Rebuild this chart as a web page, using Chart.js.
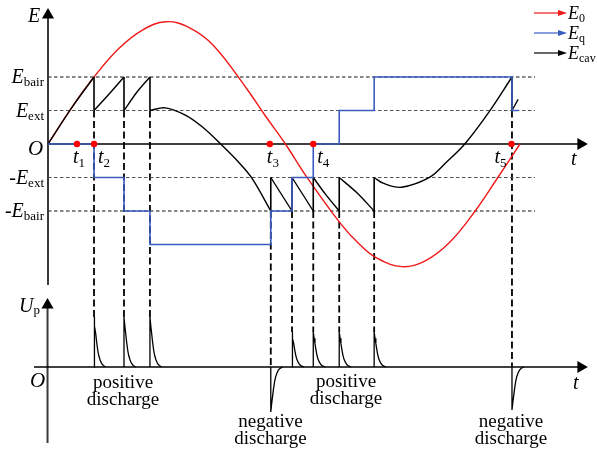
<!DOCTYPE html>
<html><head><meta charset="utf-8">
<style>html,body{margin:0;padding:0;background:#fff;}#wrap{width:597px;height:453px;position:relative;overflow:hidden;}</style>
<script src="https://cdn.jsdelivr.net/npm/chart.js@4.4.0/dist/chart.umd.min.js"></script>
</head><body><div id="wrap"><canvas id="c" width="597" height="453"></canvas></div>
<script>
// ---------- DATA (t in % of one E0 period, E in units of E_ext, U in relative pulse units) ----------
const levelValues = [2, 1, -1, -2];             // E_bair, E_ext, -E_ext, -E_bair
const levelSign   = ['', '', '-', '-'];
const levelSub    = ['bair', 'ext', 'ext', 'bair'];

// applied field E0 (red)
const e0T = [0, 5, 9.75, 15, 20, 25, 30, 35, 42.1, 46, 50.3, 54.8, 61.9, 66.1, 69.6, 75, 80, 85, 90.5, 95.3, 100];
const e0V = [0, 1.08, 2.0, 2.85, 3.4, 3.65, 3.47, 2.95, 1.65, 0.85, 0, -0.98, -2.36, -3.01, -3.40, -3.66, -3.48, -2.95, -2.0, -1.0, 0];

// surface-charge field Eq (blue, stepped)
const eqT = [0, 9.75, 9.75, 16.1, 16.1, 21.6, 21.6, 47.2, 47.2, 51.7, 51.7, 56.2, 56.2, 61.7, 61.7, 69.1, 69.1, 98.3, 98.3, 99.7];
const eqV = [0, 0, -1, -1, -2, -2, -3, -3, -2, -2, -1, -1, 0, 0, 1, 1, 2, 2, 1, 1];

// cavity field Ecav (black), smooth pieces between discharges
const cavRise    = [[0, 0], [5, 1.08], [9.75, 2.0]];
const cavCharge1 = [[9.75, 1.0], [13, 1.5], [16.1, 2.0]];
const cavCharge2 = [[16.1, 1.0], [18.9, 1.56], [21.6, 2.0]];
const cavDecay   = [[21.6, 1.0], [24.8, 1.08], [29.0, 0.87], [32.6, 0.52], [36.8, -0.03], [40.3, -0.53], [43.2, -1.02], [47.2, -2.0]];
const cavNeg1    = [[47.2, -1.0], [51.7, -2.0]];
const cavNeg2    = [[51.7, -1.0], [56.2, -2.0]];
const cavNeg3    = [[56.2, -1.0], [58.9, -1.52], [61.7, -2.0]];
const cavNeg4    = [[61.7, -1.0], [65.4, -1.45], [69.1, -2.0]];
const cavRecover = [[69.1, -1.0], [71, -1.17], [74.9, -1.29], [80.9, -0.99], [84.5, -0.53], [88.3, 0.0], [93.6, 0.99], [98.3, 2.0]];
const cavTail    = [[98.3, 1.0], [99.6, 1.33]];

// discharges
const dischargeT    = [9.75, 16.1, 21.6, 47.2, 51.7, 56.2, 61.7, 69.1, 98.3];
const dischargeFrom = [2, 2, 2, -2, -2, -2, -2, -2, 2];
const dischargeTo   = [1, 1, 1, -1, -1, -1, -1, -1, 1];
const pulseU        = [1, 1, 1, -0.9, 0.7, 0.7, 0.7, 0.7, -0.86];
// pulse decay profile
const pulseDt   = [0, 0.18, 0.36, 0.57, 0.78, 1.0, 1.27, 1.6, 1.97, 2.5];
const pulseFrac = [1, 0.82, 0.67, 0.49, 0.34, 0.23, 0.145, 0.07, 0.03, 0];

// marked instants t1..t5
const tMarks = [6.14, 9.75, 47.0, 56.2, 98.2];
const tNames = ['1', '2', '3', '4', '5'];

// ---------- LAYOUT ----------
const W = 597, H = 453;
const ORIGIN_X = 48, PX_T = 4.72;          // t=0 at x=48
const E_ZERO_Y = 144, PX_E = 33.5;         // E=0 at y=144
const U_ZERO_Y = 367, PX_U = 50;           // U=0 at y=367
const LEVEL_END = 103.2, T_AXIS_END = 112.9;

const FONT = '"Liberation Serif", "Times New Roman", serif';
const IT = 'italic 20px ' + FONT, SUB = '13px ' + FONT, TXT = '19px ' + FONT;
const BLUE = '#3a5cc0', RED = '#f01818';

function pts(ts, vs) { return ts.map((t, i) => ({x: t, y: vs[i]})); }
function pairs(a) { return a.map(p => ({x: p[0], y: p[1]})); }
const base = {pointRadius: 0, fill: false, tension: 0};

const datasets = [];
// red dots
datasets.push({data: tMarks.map(t => ({x: t, y: 0})), yAxisID: 'yE', showLine: false,
  pointRadius: 3.2, pointBackgroundColor: '#f00', pointBorderWidth: 0, order: 1});
// blue Eq
datasets.push(Object.assign({}, base, {data: pts(eqT, eqV), yAxisID: 'yE', borderColor: BLUE, borderWidth: 1.6, order: 2}));
// black Ecav pieces
[cavRise, cavCharge1, cavCharge2, cavDecay, cavNeg1, cavNeg2, cavNeg3, cavNeg4, cavRecover, cavTail].forEach(seg => {
  datasets.push(Object.assign({}, base, {data: pairs(seg), yAxisID: 'yE', borderColor: '#000', borderWidth: 1.4, tension: 0.35, order: 3}));
});
// solid jumps at discharges
const drops = [];
dischargeT.forEach((t, i) => { drops.push({x: t, y: dischargeFrom[i]}, {x: t, y: dischargeTo[i]}, {x: t, y: null}); });
datasets.push(Object.assign({}, base, {data: drops, yAxisID: 'yE', borderColor: '#000', borderWidth: 1.6, spanGaps: false, order: 3}));
// red E0
datasets.push(Object.assign({}, base, {data: pts(e0T, e0V), yAxisID: 'yE', borderColor: RED, borderWidth: 1.4, tension: 0.4, order: 4}));
// pulses
dischargeT.forEach((t, i) => {
  const h = pulseU[i];
  const d = [{x: t, y: 0}].concat(pulseDt.map((dt, k) => ({x: t + dt, y: h * pulseFrac[k]})));
  datasets.push(Object.assign({}, base, {data: d, yAxisID: 'yU', borderColor: '#000', borderWidth: 1.3, order: 3}));
});
// level dashed lines
levelValues.forEach((v, i) => {
  datasets.push(Object.assign({}, base, {data: [{x: 0, y: v}, {x: LEVEL_END, y: v}], yAxisID: 'yE',
    borderColor: (Math.abs(v) === 2 ? '#111' : '#555'), borderWidth: 1.1, borderDash: [3.5, 2.5], order: 6}));
});
// axes
const AX = '#3a3a3a';
datasets.push(Object.assign({}, base, {data: [{x: 0, y: -4.21}, {x: 0, y: 3.85}], yAxisID: 'yE', borderColor: AX, borderWidth: 2, order: 5}));
datasets.push(Object.assign({}, base, {data: [{x: 0, y: 0}, {x: T_AXIS_END, y: 0}], yAxisID: 'yE', borderColor: '#000', borderWidth: 1.5, order: 5}));
datasets.push(Object.assign({}, base, {data: [{x: -2.97, y: 0}, {x: T_AXIS_END, y: 0}], yAxisID: 'yU', borderColor: '#000', borderWidth: 1.5, order: 5}));
datasets.push(Object.assign({}, base, {data: [{x: -0.1, y: -1.52}, {x: -0.1, y: 1.24}], yAxisID: 'yU', borderColor: AX, borderWidth: 2, order: 5}));
// arrow heads
const arrow = (data, axis, rot) => ({data, yAxisID: axis, showLine: false, pointStyle: 'triangle', pointRadius: 7,
  pointRotation: rot, pointBackgroundColor: '#000', pointBorderWidth: 0, order: 0});
datasets.push(arrow([{x: 0, y: 3.85}], 'yE', 0));
datasets.push(arrow([{x: T_AXIS_END, y: 0}], 'yE', 90));
datasets.push(arrow([{x: T_AXIS_END, y: 0}], 'yU', 90));
datasets.push(arrow([{x: -0.1, y: 1.24}], 'yU', 0));

// ---------- PLUGINS ----------
function runs(ctx, list, x, y, align) {
  let w = 0;
  list.forEach(r => { ctx.font = r.f; w += ctx.measureText(r.t).width; });
  let cx = align === 'right' ? x - w : (align === 'center' ? x - w / 2 : x);
  list.forEach(r => { ctx.font = r.f; ctx.fillText(r.t, cx, y + (r.dy || 0)); cx += ctx.measureText(r.t).width; });
}

const dischargePlugin = {
  id: 'dischargeLines',
  beforeDatasetsDraw(chart) {
    const {ctx, scales: {x, yE, yU}} = chart;
    ctx.save();
    ctx.strokeStyle = '#000'; ctx.lineWidth = 1.8; ctx.setLineDash([7, 3.5]);
    dischargeT.forEach((t, i) => {
      const px = x.getPixelForValue(t);
      const y1 = yE.getPixelForValue(Math.min(dischargeFrom[i], dischargeTo[i]));
      const y2 = yU.getPixelForValue(Math.max(pulseU[i], 0));
      ctx.beginPath(); ctx.moveTo(px, y1); ctx.lineTo(px, y2); ctx.stroke();
    });
    ctx.restore();
  }
};

const textPlugin = {
  id: 'texts',
  afterDraw(chart) {
    const {ctx, scales: {x, yE, yU}} = chart;
    ctx.save();
    ctx.fillStyle = '#000'; ctx.textBaseline = 'alphabetic';
    const x0 = x.getPixelForValue(0);
    // axis titles
    runs(ctx, [{t: 'E', f: IT}], x0 - 20, 22, 'left');
    runs(ctx, [{t: 'O', f: 'italic 21px ' + FONT}], x0 - 20, yE.getPixelForValue(0) + 11, 'left');
    runs(ctx, [{t: 't', f: IT}], x.getPixelForValue(T_AXIS_END) - 10, yE.getPixelForValue(0) + 21, 'left');
    runs(ctx, [{t: 'O', f: 'italic 21px ' + FONT}], x0 - 18, yU.getPixelForValue(0) + 20, 'left');
    runs(ctx, [{t: 't', f: IT}], x.getPixelForValue(T_AXIS_END) - 8, yU.getPixelForValue(0) + 22, 'left');
    runs(ctx, [{t: 'U', f: IT}, {t: 'p', f: SUB, dy: 2}], x0 - 29, 312, 'left');
    // level labels
    levelValues.forEach((v, i) => {
      const list = [];
      if (levelSign[i]) list.push({t: levelSign[i], f: '20px ' + FONT});
      list.push({t: 'E', f: IT}, {t: levelSub[i], f: SUB, dy: 3});
      runs(ctx, list, x0 - 4, yE.getPixelForValue(v) + 6, 'right');
    });
    // t1..t5
    const tOff = [-4, 4, -3, 4, -17];
    tMarks.forEach((t, i) => {
      runs(ctx, [{t: 't', f: IT}, {t: tNames[i], f: SUB, dy: 4}], x.getPixelForValue(t) + tOff[i], yE.getPixelForValue(0) + 19, 'left');
    });
    // discharge captions
    ctx.font = TXT; ctx.textAlign = 'center';
    const cap = [[123, 388, 'positive'], [123, 405, 'discharge'], [346, 387, 'positive'], [346, 404, 'discharge'],
                 [270.5, 427, 'negative'], [270.5, 444, 'discharge'], [511, 427, 'negative'], [511, 444, 'discharge']];
    cap.forEach(c => ctx.fillText(c[2], c[0], c[1]));
    ctx.textAlign = 'left';
    // legend
    const leg = [[RED, 13, '0'], [BLUE, 33, 'q'], ['#000', 53, 'cav']];
    leg.forEach((l, i) => {
      ctx.strokeStyle = l[0]; ctx.fillStyle = l[0]; ctx.lineWidth = 1.2;
      ctx.beginPath(); ctx.moveTo(534, l[1]); ctx.lineTo(560, l[1]); ctx.stroke();
      ctx.beginPath(); ctx.moveTo(567, l[1]); ctx.lineTo(558, l[1] - 3); ctx.lineTo(558, l[1] + 3); ctx.closePath(); ctx.fill();
      ctx.fillStyle = '#000';
      runs(ctx, [{t: 'E', f: 'italic 18px ' + FONT}, {t: l[2], f: '12px ' + FONT, dy: 3}], 568, l[1] + 6, 'left');
    });
    ctx.restore();
  }
};

function draw() {
  new Chart(document.getElementById('c'), {
    type: 'line',
    data: {datasets},
    options: {
      responsive: false, animation: false, events: [], devicePixelRatio: 1,
      layout: {padding: 0, autoPadding: false},
      plugins: {legend: {display: false}, tooltip: {enabled: false}, title: {display: false}},
      scales: {
        x: {type: 'linear', display: false, min: -ORIGIN_X / PX_T, max: (W - ORIGIN_X) / PX_T},
        yE: {type: 'linear', display: false, min: (E_ZERO_Y - H) / PX_E, max: E_ZERO_Y / PX_E},
        yU: {type: 'linear', display: false, min: (U_ZERO_Y - H) / PX_U, max: U_ZERO_Y / PX_U}
      }
    },
    plugins: [dischargePlugin, textPlugin]
  });
}
const fl = document.fonts ? Promise.all([document.fonts.load(IT), document.fonts.load(TXT), document.fonts.load(SUB)]) : Promise.resolve();
fl.then(draw, draw);
</script></body></html>
